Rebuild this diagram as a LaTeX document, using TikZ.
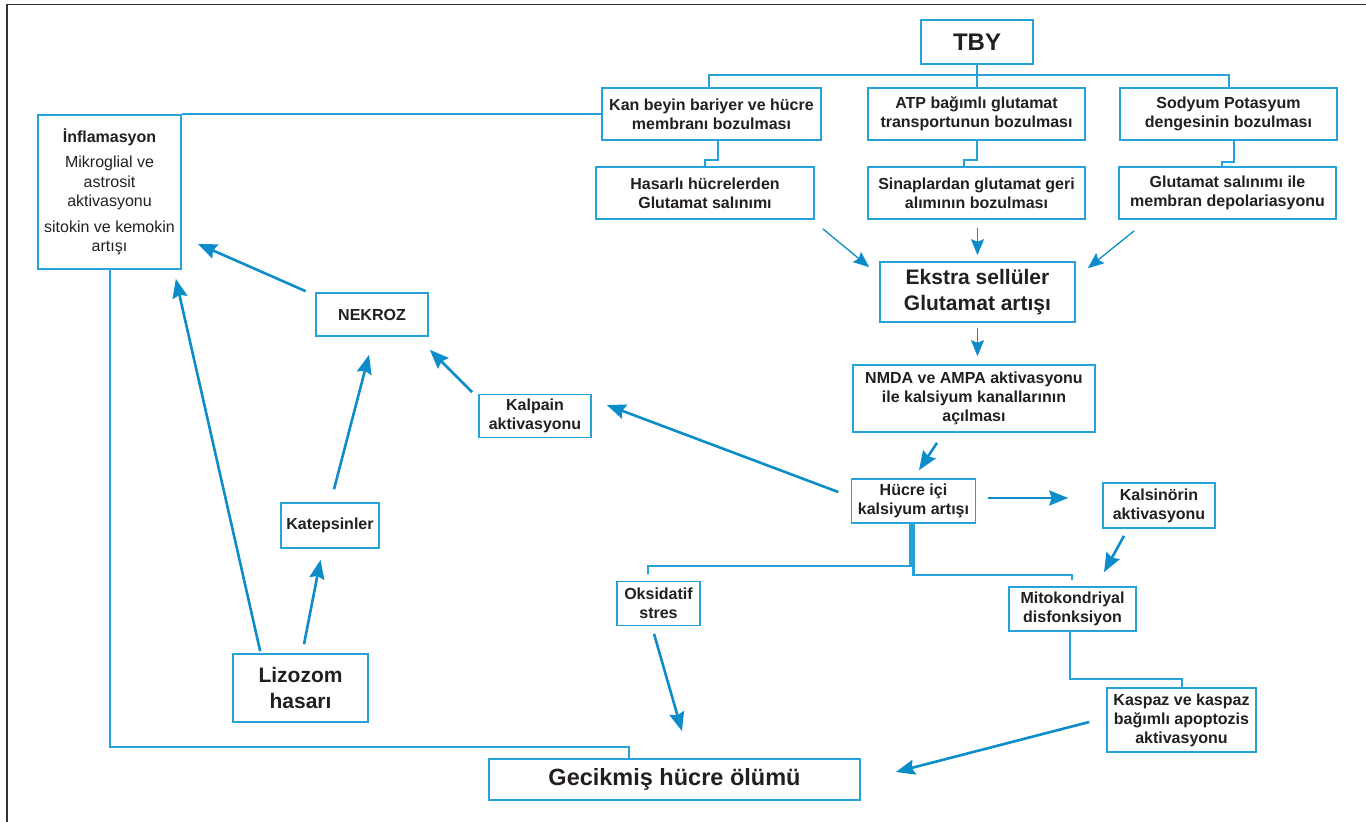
\documentclass[tikz,border=0pt]{standalone}
\usepackage{fontspec}
\setmainfont{Liberation Sans}
\usetikzlibrary{arrows.meta,calc}
\definecolor{boxblue}{RGB}{38,162,219}
\definecolor{arrblue}{RGB}{12,140,201}
\definecolor{txt}{RGB}{35,31,32}
\definecolor{framec}{RGB}{50,50,50}
\begin{document}
\begin{tikzpicture}[x=1pt,y=-1pt,
  box/.style={draw=boxblue, line width=1.6pt, inner sep=0pt, align=center, text=txt,
    font=\bfseries\fontsize{16}{19}\selectfont},
  sz/.style 2 args={minimum width=#1pt, minimum height=#2pt},
  conn/.style={draw=boxblue, line width=2pt},
  arr/.style={draw=arrblue, line width=2.6pt, -{Stealth[length=19pt,width=15pt,inset=2.5pt]}},
  thinarr/.style={draw=arrblue, line width=1.3pt, -{Stealth[length=16pt,width=13pt,inset=2.5pt]}}]
\useasboundingbox (0,0) rectangle (1366,822);
\draw[framec, line width=1.6pt] (7,822) -- (7,4.5) -- (1366,4.5);

% nodes
\node[box, sz={112}{44}, font=\bfseries\fontsize{24}{28}\selectfont] (tby) at (977,42) {TBY};
\node[box, sz={219}{52}] (kan) at (711.5,114) {Kan beyin bariyer ve hücre\\membranı bozulması};
\node[box, sz={217}{52}] (atp) at (976.5,114) {ATP bağımlı glutamat\\transportunun bozulması};
\node[box, sz={217}{52}] (sod) at (1228.5,114) {Sodyum Potasyum\\dengesinin bozulması};
\node[box, sz={218}{52}] (has) at (705,193) {Hasarlı hücrelerden\\Glutamat salınımı};
\node[box, sz={217}{52}] (sin) at (976.5,193) {Sinaplardan glutamat geri\\alımının bozulması};
\node[box, sz={217}{52}] (glu) at (1227.5,193) {Glutamat salınımı ile\\membran depolariasyonu};
\node[box, sz={143}{154}, font=\fontsize{16}{19.5}\selectfont] (inf) at (109.5,192)
  {{\bfseries İnflamasyon}\\[6pt]Mikroglial ve\\astrosit\\aktivasyonu\\[6pt]sitokin ve kemokin\\artışı};
\node[box, sz={195}{60}, font=\bfseries\fontsize{21}{26}\selectfont] (eks) at (977.5,292) {Ekstra sellüler\\Glutamat artışı};
\node[box, sz={242}{67}] (nmda) at (974,398.5) {NMDA ve AMPA aktivasyonu\\ile kalsiyum kanallarının\\açılması};
\node[box, sz={124}{44}] (hci) at (913.5,501) {Hücre içi\\kalsiyum artışı};
\node[box, sz={112}{45}] (kals) at (1159,505.5) {Kalsinörin\\aktivasyonu};
\node[box, sz={112}{43}] (kalp) at (535,416) {Kalpain\\aktivasyonu};
\node[box, sz={112}{43}] (nek) at (372,314.5) {NEKROZ};
\node[box, sz={98}{45}] (kat) at (330,525.5) {Katepsinler};
\node[box, sz={135}{68}, font=\bfseries\fontsize{21}{26}\selectfont] (liz) at (300.5,688) {Lizozom\\hasarı};
\node[box, sz={83}{44}] (oks) at (658.5,603.5) {Oksidatif\\stres};
\node[box, sz={127}{44}] (mit) at (1072.5,609) {Mitokondriyal\\disfonksiyon};
\node[box, sz={149}{64}] (kas) at (1181.5,720) {Kaspaz ve kaspaz\\bağımlı apoptozis\\aktivasyonu};
\node[box, sz={371}{41}, font=\bfseries\fontsize{23.5}{28}\selectfont] (gec) at (674.5,779.5) {Gecikmiş hücre ölümü};

% elbow connectors
\draw[conn] ([xshift=-2.5pt]kan.north) -- ++(0,-12) -| ([xshift=0.5pt]sod.north);
\draw[conn] (tby.south) -- (tby.south |- atp.north);
\draw[conn] ([xshift=6.5pt]kan.south) -- ++(0,19) -| (has.north);
\draw[conn] ([xshift=0.5pt]atp.south) -- ++(0,19) -| ([xshift=-12.5pt]sin.north);
\draw[conn] ([xshift=5.5pt]sod.south) -- ++(0,21) -| ([xshift=-5.5pt]glu.north);
\draw[conn] (kan.west) -- (kan.west -| inf.east);
\draw[conn] (inf.south) -- ++(0,477) -| ([xshift=-45.5pt]gec.north);
\draw[conn, line width=2.6pt, shorten >=7pt] ([xshift=-3pt]hci.south) -- ++(0,42) -| ([xshift=-10.5pt]oks.north);
\draw[conn, line width=2.6pt, shorten >=6pt] (hci.south) -- ++(0,51) -| ([xshift=-0.5pt]mit.north);
\draw[conn] ([xshift=-3pt]mit.south) -- ++(0,47) -| (kas.north);

% arrows
\draw[thinarr] ($(has.south east)+(8,9)$) -- ($(eks.north west)+(-10,6)$);
\draw[thinarr] ($(sin.south)+(1,8)$) -- ($(eks.north)+(0,-6)$);
\draw[thinarr] ($(glu.south west)+(16,11)$) -- ($(eks.north east)+(12,7)$);
\draw[thinarr] ($(eks.south)+(0,5)$) -- ($(nmda.north)+(3.5,-8)$);
\draw[arr] ($(nmda.south)+(-37,10)$) -- ($(hci.north)+(5.5,-8)$);
\draw[arr] ($(hci.east)+(11.5,-3)$) -- ($(kals.west)+(-34,-7.5)$);
\draw[arr] ($(kals.south)+(-35,7)$) -- ($(mit.north)+(31.5,-14)$);
\draw[arr] ($(hci.west)+(-12.5,-9)$) -- ($(kalp.east)+(15,-11)$);
\draw[arr] ($(kalp.north west)+(-6,-1.5)$) -- ($(nek.south east)+(1,13)$);
\draw[arr] ($(nek.north west)+(-9.5,-1)$) -- ($(inf.south east)+(16,-26)$);
\draw[arr] ($(kat.north)+(4,-13)$) -- ($(nek.south)+(-3,18)$);
\draw[arr] ($(liz.north)+(3.5,-9)$) -- ($(kat.south)+(-9.5,11)$);
\draw[arr] ($(liz.north west)+(28,-2)$) -- ($(inf.south east)+(-6,9)$);
\draw[arr] ($(oks.south)+(-4.5,7.5)$) -- ($(gec.north)+(7.5,-27)$);
\draw[arr] ($(kas.west)+(-17,2)$) -- ($(gec.east)+(35,-7.5)$);
\end{tikzpicture}
\end{document}
